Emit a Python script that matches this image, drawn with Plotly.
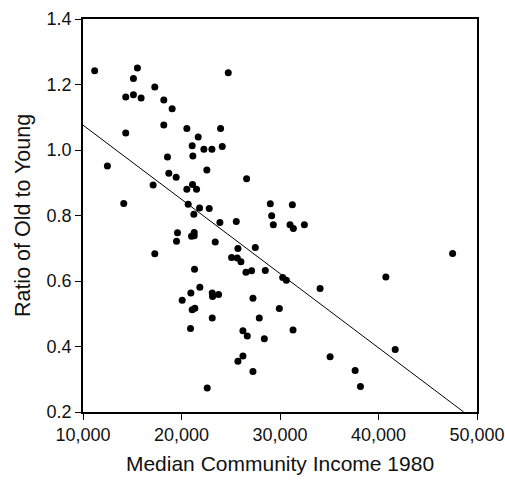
import plotly.graph_objects as go

income = [11186, 12475, 14136, 14339, 14339, 15119, 15119, 15525, 15898, 17119,
          17288, 17288, 18203, 18203, 18576, 18712, 19051, 19458, 19593, 19492,
          20068, 20542, 20542, 20678, 20915, 20949, 21017, 21085, 21153, 21119,
          21085, 21254, 21288, 21288, 21322, 21356, 21525, 21695, 21831, 21864,
          22271, 22576, 22610, 22814, 23085, 23119, 23153, 23119, 23424, 23763,
          23898, 23966, 24136, 24746, 25085, 25559, 25661, 25729, 25729, 26034,
          26237, 26237, 26542, 26610, 26678, 27119, 27254, 27254, 27492, 27898,
          28407, 28508, 29017, 29153, 29322, 29932, 30271, 30644, 31017, 31254,
          31356, 31322, 32475, 34068, 35085, 37627, 38169, 40746, 41695, 47525]
ratio = [1.242, 0.951, 0.837, 1.162, 1.052, 1.218, 1.169, 1.250, 1.159, 0.893,
         1.192, 0.683, 1.153, 1.076, 0.979, 0.929, 1.126, 0.917, 0.747, 0.721,
         0.541, 1.066, 0.880, 0.834, 0.455, 0.563, 0.737, 1.013, 0.982, 0.895,
         0.512, 0.804, 0.748, 0.738, 0.636, 0.517, 0.880, 1.040, 0.823, 0.581,
         1.002, 0.939, 0.273, 0.821, 1.002, 0.563, 0.553, 0.487, 0.719, 0.559,
         0.779, 1.066, 1.011, 1.236, 0.672, 0.782, 0.670, 0.699, 0.355, 0.659,
         0.448, 0.371, 0.627, 0.912, 0.432, 0.631, 0.547, 0.324, 0.702, 0.487,
         0.424, 0.632, 0.836, 0.799, 0.772, 0.516, 0.611, 0.602, 0.772, 0.833,
         0.760, 0.450, 0.772, 0.577, 0.369, 0.327, 0.278, 0.612, 0.391, 0.684]

# Fitted regression line: ratio = fit_at_10000 + fit_slope * (income - 10000)
fit_at_10000 = 1.076
fit_slope = -2.2665e-5
x_tick_vals = [10000, 20000, 30000, 40000, 50000]
x_tick_text = ["10,000", "20,000", "30,000", "40,000", "50,000"]
y_tick_vals = [0.2, 0.4, 0.6, 0.8, 1.0, 1.2, 1.4]
y_tick_text = ["0.2", "0.4", "0.6", "0.8", "1.0", "1.2", "1.4"]
x_range = [10000, 50000]
y_range = [0.2, 1.4]

line_x0 = x_range[0]
line_x1 = x_range[0] + (y_range[0] - fit_at_10000) / fit_slope
line_x = [line_x0, line_x1]
line_y = [fit_at_10000 + fit_slope * (v - 10000) for v in line_x]

FONT = "Liberation Sans, Arial, Helvetica, sans-serif"
TXT = "#111"

fig = go.Figure()
fig.add_trace(go.Scatter(x=line_x, y=line_y, mode="lines",
                         line=dict(color="black", width=1), hoverinfo="skip",
                         showlegend=False))
fig.add_trace(go.Scatter(x=income, y=ratio, mode="markers",
                         marker=dict(color="black", size=7, line=dict(width=0)),
                         showlegend=False))

fig.update_layout(
    width=505, height=481,
    margin=dict(l=83, r=28, t=19, b=69, autoexpand=False),
    paper_bgcolor="white", plot_bgcolor="white",
    font=dict(family=FONT, color=TXT, size=18),
    xaxis=dict(range=x_range, tickvals=x_tick_vals, ticktext=x_tick_text,
               ticks="outside", ticklen=6, tickwidth=1, tickcolor="black",
               showline=True, linecolor="black", linewidth=1.5, mirror=True,
               showgrid=False, zeroline=False, automargin=False,
               tickfont=dict(size=18, family=FONT, color=TXT),
               title=dict(text="Median Community Income 1980",
                          font=dict(size=21, family=FONT, color=TXT),
                          standoff=12)),
    yaxis=dict(range=y_range, tickvals=y_tick_vals, ticktext=y_tick_text,
               ticks="outside", ticklen=6, tickwidth=1, tickcolor="black",
               showline=True, linecolor="black", linewidth=1.5, mirror=True,
               showgrid=False, zeroline=False, automargin=False,
               tickfont=dict(size=18, family=FONT, color=TXT),
               title=dict(text="Ratio of Old to Young",
                          font=dict(size=21.5, family=FONT, color=TXT),
                          standoff=10)),
)

fig.write_html("out.html",
               config={"displayModeBar": False},
               post_script="document.body.style.margin='0';"
                           "document.body.style.overflow='hidden';")
